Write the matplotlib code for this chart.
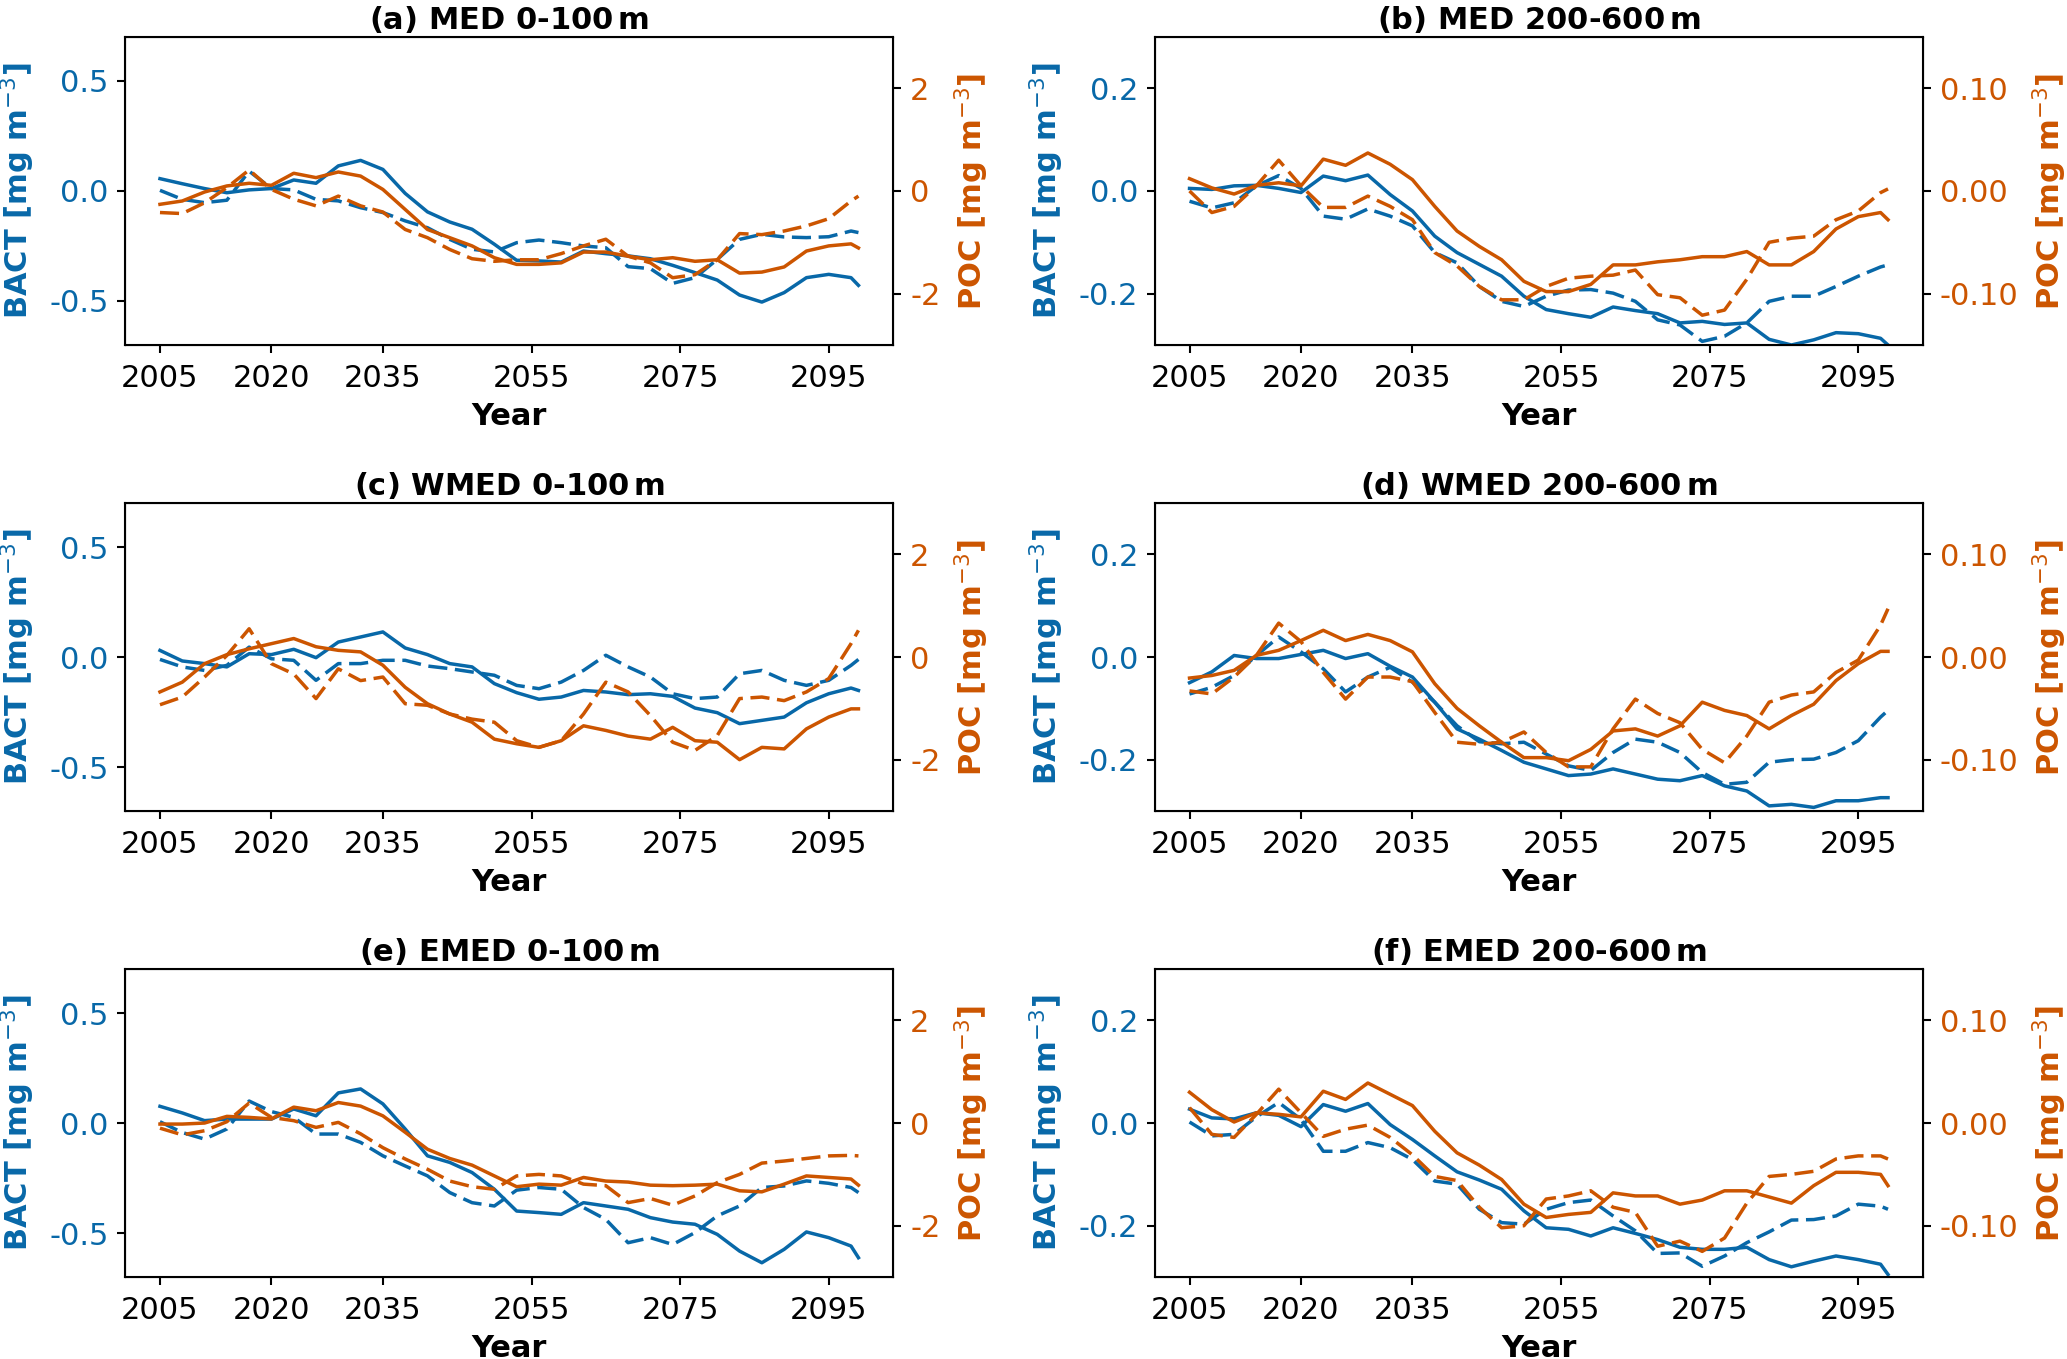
import matplotlib
matplotlib.use("Agg")
import matplotlib.pyplot as plt

plt.rcParams['font.family'] = ['DejaVu Sans']
plt.rcParams['font.size'] = 22
plt.rcParams['axes.unicode_minus'] = False

blue = '#0868A8'
orange = '#CC5500'

# every 3 years, plus the last year
years = list(range(2005, 2099, 3)) + [2099]

titles = ['(a) MED 0-100$\\,$m', '(b) MED 200-600$\\,$m',
          '(c) WMED 0-100$\\,$m', '(d) WMED 200-600$\\,$m',
          '(e) EMED 0-100$\\,$m', '(f) EMED 200-600$\\,$m']

# (a) MED 0-100 m
a_bact_1 = [0.056, 0.033, 0.011, -0.008, 0.005, 0.011, 0.05, 0.035, 0.114, 0.139, 0.098, -0.011, -0.095, -0.141, -0.174, -0.242, -0.315, -0.318, -0.323, -0.273, -0.285, -0.295, -0.308, -0.338, -0.371, -0.405, -0.473, -0.505, -0.462, -0.394, -0.379, -0.394, -0.429]
a_bact_2 = [0.003, -0.038, -0.053, -0.042, 0.09, 0.011, 0.005, -0.038, -0.045, -0.076, -0.098, -0.136, -0.167, -0.22, -0.265, -0.277, -0.235, -0.223, -0.235, -0.25, -0.258, -0.344, -0.353, -0.42, -0.394, -0.311, -0.22, -0.197, -0.209, -0.212, -0.208, -0.182, -0.189]
a_poc_1 = [-0.26, -0.195, -0.02, 0.098, 0.15, 0.11, 0.345, 0.26, 0.37, 0.29, 0.03, -0.36, -0.75, -0.91, -1.07, -1.30, -1.43, -1.43, -1.40, -1.19, -1.19, -1.27, -1.34, -1.30, -1.37, -1.34, -1.60, -1.58, -1.48, -1.17, -1.07, -1.03, -1.11]
a_poc_2 = [-0.42, -0.44, -0.23, 0.065, 0.41, 0.03, -0.16, -0.29, -0.10, -0.29, -0.41, -0.75, -0.91, -1.14, -1.32, -1.37, -1.34, -1.34, -1.22, -1.07, -0.94, -1.27, -1.40, -1.69, -1.63, -1.34, -0.83, -0.85, -0.78, -0.68, -0.54, -0.195, -0.10]

# (b) MED 200-600 m
b_bact_1 = [0.005, 0.003, 0.01, 0.011, 0.005, -0.003, 0.029, 0.02, 0.031, -0.007, -0.039, -0.088, -0.12, -0.143, -0.166, -0.205, -0.231, -0.239, -0.246, -0.226, -0.233, -0.239, -0.257, -0.254, -0.26, -0.257, -0.289, -0.30, -0.29, -0.276, -0.278, -0.287, -0.30]
b_bact_2 = [-0.02, -0.033, -0.023, 0.01, 0.03, 0.005, -0.049, -0.055, -0.035, -0.049, -0.068, -0.12, -0.14, -0.186, -0.215, -0.225, -0.205, -0.193, -0.192, -0.199, -0.215, -0.251, -0.261, -0.293, -0.283, -0.257, -0.215, -0.205, -0.205, -0.186, -0.166, -0.148, -0.144]
b_poc_1 = [0.012, 0.003, -0.003, 0.0055, 0.008, 0.005, 0.031, 0.025, 0.037, 0.026, 0.011, -0.015, -0.039, -0.054, -0.067, -0.088, -0.098, -0.098, -0.091, -0.072, -0.072, -0.069, -0.067, -0.064, -0.064, -0.059, -0.072, -0.072, -0.059, -0.037, -0.025, -0.021, -0.028]
b_poc_2 = [0.0, -0.021, -0.015, 0.005, 0.03, 0.005, -0.016, -0.016, -0.005, -0.015, -0.028, -0.06, -0.073, -0.093, -0.106, -0.106, -0.093, -0.085, -0.083, -0.082, -0.077, -0.101, -0.104, -0.121, -0.116, -0.086, -0.05, -0.046, -0.044, -0.028, -0.0195, -0.0016, 0.002]

# (c) WMED 0-100 m
c_bact_1 = [0.030, -0.018, -0.030, -0.045, 0.015, 0.011, 0.035, -0.003, 0.068, 0.091, 0.114, 0.041, 0.011, -0.030, -0.045, -0.121, -0.162, -0.192, -0.182, -0.152, -0.159, -0.171, -0.167, -0.179, -0.232, -0.253, -0.303, -0.288, -0.273, -0.208, -0.167, -0.141, -0.152]
c_bact_2 = [-0.011, -0.045, -0.061, -0.038, 0.045, -0.008, -0.015, -0.106, -0.030, -0.03, -0.015, -0.015, -0.041, -0.053, -0.068, -0.083, -0.129, -0.144, -0.114, -0.061, 0.008, -0.045, -0.091, -0.167, -0.189, -0.182, -0.076, -0.061, -0.106, -0.129, -0.106, -0.038, -0.011]
c_poc_1 = [-0.68, -0.49, -0.13, 0.046, 0.16, 0.26, 0.36, 0.20, 0.13, 0.10, -0.16, -0.59, -0.91, -1.11, -1.27, -1.60, -1.69, -1.76, -1.63, -1.34, -1.43, -1.54, -1.60, -1.37, -1.63, -1.66, -2.0, -1.76, -1.79, -1.40, -1.17, -1.01, -1.01]
c_poc_2 = [-0.93, -0.78, -0.39, 0.03, 0.55, -0.13, -0.33, -0.81, -0.23, -0.46, -0.39, -0.91, -0.94, -1.11, -1.21, -1.27, -1.63, -1.76, -1.63, -1.11, -0.49, -0.68, -1.14, -1.66, -1.82, -1.53, -0.81, -0.78, -0.85, -0.68, -0.42, 0.26, 0.52]

# (d) WMED 200-600 m
d_bact_1 = [-0.050, -0.029, 0.003, -0.003, -0.003, 0.005, 0.013, -0.003, 0.0065, -0.018, -0.039, -0.088, -0.14, -0.16, -0.182, -0.205, -0.218, -0.231, -0.228, -0.218, -0.228, -0.238, -0.241, -0.231, -0.251, -0.261, -0.29, -0.287, -0.293, -0.28, -0.28, -0.274, -0.274]
d_bact_2 = [-0.072, -0.059, -0.036, 0.003, 0.039, 0.01, -0.023, -0.068, -0.039, -0.02, -0.049, -0.088, -0.134, -0.165, -0.169, -0.166, -0.189, -0.212, -0.221, -0.186, -0.16, -0.166, -0.186, -0.225, -0.248, -0.244, -0.205, -0.2, -0.199, -0.186, -0.163, -0.117, -0.104]
d_poc_1 = [-0.0205, -0.018, -0.013, 0.0016, 0.0065, 0.016, 0.026, 0.016, 0.022, 0.016, 0.005, -0.026, -0.05, -0.067, -0.083, -0.098, -0.098, -0.101, -0.09, -0.072, -0.07, -0.077, -0.067, -0.044, -0.052, -0.057, -0.07, -0.057, -0.046, -0.023, -0.0065, 0.0055, 0.0055]
d_poc_2 = [-0.033, -0.036, -0.0195, 0.0016, 0.033, 0.015, -0.015, -0.041, -0.0195, -0.0195, -0.024, -0.054, -0.083, -0.085, -0.083, -0.073, -0.093, -0.107, -0.107, -0.07, -0.041, -0.055, -0.064, -0.09, -0.103, -0.077, -0.044, -0.037, -0.034, -0.015, -0.003, 0.031, 0.047]

# (e) EMED 0-100 m
e_bact_1 = [0.076, 0.046, 0.011, 0.018, 0.018, 0.018, 0.064, 0.033, 0.137, 0.155, 0.087, -0.027, -0.149, -0.179, -0.225, -0.301, -0.40, -0.407, -0.415, -0.362, -0.377, -0.392, -0.43, -0.45, -0.46, -0.506, -0.582, -0.635, -0.574, -0.495, -0.521, -0.559, -0.612]
e_bact_2 = [0.006, -0.043, -0.073, -0.027, 0.10, 0.052, 0.026, -0.05, -0.05, -0.088, -0.149, -0.195, -0.24, -0.316, -0.362, -0.377, -0.305, -0.293, -0.301, -0.384, -0.438, -0.544, -0.521, -0.552, -0.498, -0.422, -0.377, -0.293, -0.286, -0.263, -0.274, -0.293, -0.316]
e_poc_1 = [-0.02, -0.02, 0.0, 0.13, 0.11, 0.08, 0.31, 0.24, 0.40, 0.33, 0.14, -0.18, -0.51, -0.69, -0.82, -1.03, -1.24, -1.19, -1.21, -1.06, -1.13, -1.15, -1.21, -1.22, -1.21, -1.19, -1.32, -1.34, -1.19, -1.03, -1.06, -1.09, -1.21]
e_poc_2 = [-0.10, -0.23, -0.15, 0.026, 0.39, 0.11, 0.046, -0.085, 0.013, -0.21, -0.48, -0.70, -0.90, -1.13, -1.24, -1.29, -1.03, -1.00, -1.03, -1.19, -1.22, -1.55, -1.47, -1.60, -1.42, -1.16, -1.00, -0.78, -0.74, -0.69, -0.64, -0.63, -0.64]

# (f) EMED 200-600 m
f_bact_1 = [0.027, 0.010, 0.008, 0.02, 0.015, -0.007, 0.036, 0.023, 0.038, -0.003, -0.032, -0.064, -0.095, -0.111, -0.129, -0.171, -0.204, -0.207, -0.22, -0.204, -0.215, -0.227, -0.242, -0.246, -0.246, -0.242, -0.266, -0.28, -0.269, -0.259, -0.266, -0.275, -0.295]
f_bact_2 = [0.002, -0.025, -0.022, 0.012, 0.04, 0.007, -0.055, -0.055, -0.038, -0.048, -0.071, -0.113, -0.119, -0.168, -0.194, -0.197, -0.168, -0.155, -0.15, -0.181, -0.21, -0.254, -0.253, -0.279, -0.259, -0.233, -0.212, -0.189, -0.188, -0.181, -0.158, -0.162, -0.168]
f_poc_1 = [0.03, 0.013, 0.001, 0.01, 0.0085, 0.006, 0.031, 0.023, 0.039, 0.028, 0.017, -0.008, -0.029, -0.041, -0.055, -0.079, -0.092, -0.089, -0.087, -0.068, -0.071, -0.071, -0.079, -0.075, -0.066, -0.066, -0.072, -0.078, -0.061, -0.048, -0.048, -0.05, -0.061]
f_poc_2 = [0.015, -0.011, -0.014, 0.0085, 0.033, 0.01, -0.013, -0.006, -0.002, -0.014, -0.031, -0.052, -0.056, -0.082, -0.102, -0.10, -0.074, -0.071, -0.066, -0.082, -0.087, -0.12, -0.115, -0.125, -0.112, -0.078, -0.052, -0.05, -0.047, -0.035, -0.032, -0.032, -0.035]

panels = [(a_bact_1, a_bact_2, a_poc_1, a_poc_2),
          (b_bact_1, b_bact_2, b_poc_1, b_poc_2),
          (c_bact_1, c_bact_2, c_poc_1, c_poc_2),
          (d_bact_1, d_bact_2, d_poc_1, d_poc_2),
          (e_bact_1, e_bact_2, e_poc_1, e_poc_2),
          (f_bact_1, f_bact_2, f_poc_1, f_poc_2)]

xticks = [2005, 2020, 2035, 2055, 2075, 2095]

fig, axes = plt.subplots(3, 2, figsize=(20.67, 13.59), dpi=100)
plt.subplots_adjust(left=0.0605, right=0.9303, bottom=0.0603, top=0.9728,
                    wspace=0.34, hspace=0.513)

lw = 2.5
dash = (5.5, 2.2)

for i, ax in enumerate(axes.flat):
    bact1, bact2, poc1, poc2 = panels[i]
    ax.plot(years, bact1, color=blue, lw=lw)
    ax.plot(years, bact2, color=blue, lw=lw, ls='--', dashes=dash)
    ax2 = ax.twinx()
    ax2.plot(years, poc1, color=orange, lw=lw)
    ax2.plot(years, poc2, color=orange, lw=lw, ls='--', dashes=dash)

    if i % 2 == 0:
        ax.set_ylim(-0.7, 0.7)
        ax.set_yticks([-0.5, 0.0, 0.5])
        ax.set_yticklabels(['-0.5', '0.0', '0.5'])
        ax2.set_ylim(-3, 3)
        ax2.set_yticks([-2, 0, 2])
        ax2.set_yticklabels(['-2', '0', '2'])
    else:
        ax.set_ylim(-0.3, 0.3)
        ax.set_yticks([-0.2, 0.0, 0.2])
        ax.set_yticklabels(['-0.2', '0.0', '0.2'])
        ax2.set_ylim(-0.15, 0.15)
        ax2.set_yticks([-0.1, 0.0, 0.1])
        ax2.set_yticklabels(['-0.10', '0.00', '0.10'])

    ax.set_xticks(xticks)
    ax.set_title(titles[i], fontweight='bold', fontsize=22)
    ax.set_xlabel('Year', fontweight='bold', labelpad=6)
    ax.set_ylabel('BACT [mg m$^{-3}$]', color=blue, fontweight='bold', labelpad=9)
    ax2.set_ylabel('POC [mg m$^{-3}$]', color=orange, fontweight='bold', labelpad=9)
    ax.tick_params(axis='y', labelcolor=blue, width=1.5, length=6, pad=6)
    ax.tick_params(axis='x', width=1.5, length=6, pad=8)
    ax2.tick_params(axis='y', labelcolor=orange, width=1.5, length=6, pad=6)
    for s in ax2.spines.values():
        s.set_linewidth(1.5)

plt.savefig('out.png', dpi=100)
